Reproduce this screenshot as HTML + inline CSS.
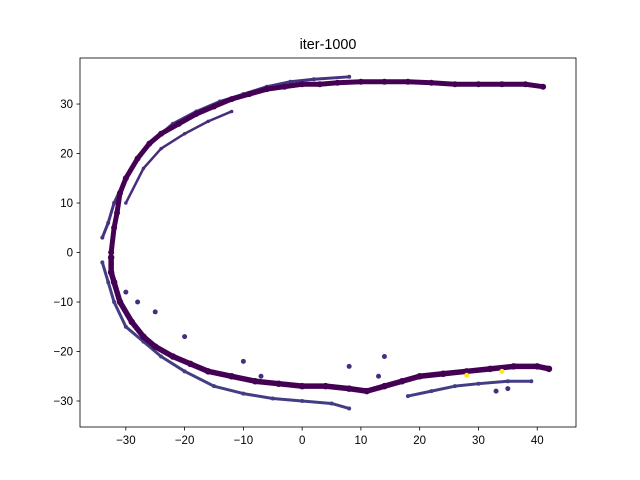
<!DOCTYPE html>
<html><head><meta charset="utf-8"><style>
body{margin:0;background:#fff;}
svg{display:block;font-family:"Liberation Sans","DejaVu Sans",sans-serif;}
</style></head><body>
<svg id="chart" width="640" height="480">
<rect width="640" height="480" fill="#fff"/>
<text x="328" y="49" font-size="14.4" text-anchor="middle">iter-1000</text>
<g id="marks"></g>
<g id="axes"></g>
</svg>
<script>
const xTicks=[-30,-20,-10,0,10,20,30,40];
const yTicks=[-30,-20,-10,0,10,20,30];
const upperX=[-32.5,-32,-31.5,-31,-30,-28,-26,-24,-21,-18,-15,-12,-9,-6,-3,0,3,6,10,14,18,22,26,30,34,38,41];
const upperY=[0,5,8,12,15,19,22,24,26,28,29.5,31,32,33,33.5,34,34,34.3,34.5,34.5,34.5,34.3,34,34,34,34,33.5];
const outerUX=[-34,-33,-32,-30,-28,-25,-22,-18,-14,-10,-6,-2,2,8];
const outerUY=[3,6,10,15,19,23,26,28.5,30.5,32,33.5,34.5,35,35.5];
const innerUX=[-30,-27,-24,-20,-16,-12];
const innerUY=[10,17,21,24,26.5,28.5];
const lowerX=[-32.5,-32.5,-32,-31,-29,-27,-25,-22,-19,-16,-12,-8,-4,0,4,8,11,14,17,20,24,28,32,36,40,42];
const lowerY=[-1,-4,-6,-10,-14,-17,-19,-21,-22.5,-24,-25,-26,-26.5,-27,-27,-27.5,-28,-27,-26,-25,-24.5,-24,-23.5,-23,-23,-23.5];
const outerLX=[-34,-33,-32,-30,-27,-24,-20,-15,-10,-5,0,5,8];
const outerLY=[-2,-6,-10,-15,-18,-21,-24,-27,-28.5,-29.5,-30,-30.5,-31.5];
const outerRX=[18,22,26,30,35,39];
const outerRY=[-29,-28,-27,-26.5,-26,-26];
const extraX=[-30,-28,-25,-20,-10,-7,8,13,14,33,35,28,34];
const extraY=[-8,-10,-12,-17,-22,-25,-23,-25,-21,-28,-27.5,-24.8,-24];
const xMin=-37.8,xMax=46.6,yMin=-35.25,yMax=39.3;
const L=80,R=576,T=58,B=427;
const sx=v=>L+(v-xMin)/(xMax-xMin)*(R-L);
const sy=v=>B-(v-yMin)/(yMax-yMin)*(B-T);
const NS="http://www.w3.org/2000/svg";
const marks=document.getElementById('marks'),axes=document.getElementById('axes');
function strand(xs,ys,name,w,col){
  const pl=document.createElementNS(NS,'polyline');
  pl.setAttribute('points',xs.map((x,i)=>sx(x)+','+sy(ys[i])).join(' '));
  pl.setAttribute('fill','none');pl.setAttribute('stroke',col);pl.setAttribute('stroke-width',w);
  pl.setAttribute('stroke-linecap','round');pl.setAttribute('stroke-linejoin','round');
  
  
  marks.appendChild(pl);
  xs.forEach((x,i)=>{
    const c=document.createElementNS(NS,'circle');
    c.setAttribute('cx',sx(x));c.setAttribute('cy',sy(ys[i]));c.setAttribute('r',w/2+0.5);c.setAttribute('fill',col);
    
    
    marks.appendChild(c);
  });
}
strand(outerUX,outerUY,'outer-upper-strand',3,'#46327e');
strand(innerUX,innerUY,'inner-upper-strand',2.5,'#472d7b');
strand(upperX,upperY,'upper-strand',5,'#440154');
strand(outerLX,outerLY,'outer-lower-strand',3,'#433d84');
strand(outerRX,outerRY,'outer-right-strand',3,'#433d84');
strand(lowerX,lowerY,'lower-strand',5.5,'#440154');
extraX.forEach((x,i)=>{
  const c=document.createElementNS(NS,'circle');
  c.setAttribute('cx',sx(x));c.setAttribute('cy',sy(extraY[i]));c.setAttribute('r',2.5);
  c.setAttribute('fill',i>=11?'#fde725':'#472d7b');
  
  
  marks.appendChild(c);
});
const fr=document.createElementNS(NS,'rect');
fr.setAttribute('x',L);fr.setAttribute('y',T);fr.setAttribute('width',R-L);fr.setAttribute('height',B-T);
fr.setAttribute('fill','none');fr.setAttribute('stroke','#000');fr.setAttribute('stroke-width',0.8);


axes.appendChild(fr);
xTicks.forEach(t=>{
  const x=sx(t);
  const ln=document.createElementNS(NS,'line');
  ln.setAttribute('x1',x);ln.setAttribute('x2',x);ln.setAttribute('y1',B);ln.setAttribute('y2',B+3.5);ln.setAttribute('stroke','#000');ln.setAttribute('stroke-width',0.8);
  
  
  axes.appendChild(ln);
  const tx=document.createElementNS(NS,'text');
  tx.setAttribute('x',x);tx.setAttribute('y',B+17);tx.setAttribute('font-size','11.5');tx.setAttribute('text-anchor','middle');
  tx.textContent=t<0?'\u2212'+(-t):t;
  
  
  axes.appendChild(tx);
});
yTicks.forEach(t=>{
  const y=sy(t);
  const ln=document.createElementNS(NS,'line');
  ln.setAttribute('x1',L-3.5);ln.setAttribute('x2',L);ln.setAttribute('y1',y);ln.setAttribute('y2',y);ln.setAttribute('stroke','#000');ln.setAttribute('stroke-width',0.8);
  
  
  axes.appendChild(ln);
  const tx=document.createElementNS(NS,'text');
  tx.setAttribute('x',L-7);tx.setAttribute('y',y+4);tx.setAttribute('font-size','11.5');tx.setAttribute('text-anchor','end');
  tx.textContent=t<0?'\u2212'+(-t):t;
  
  
  axes.appendChild(tx);
});
</script>
</body></html>
